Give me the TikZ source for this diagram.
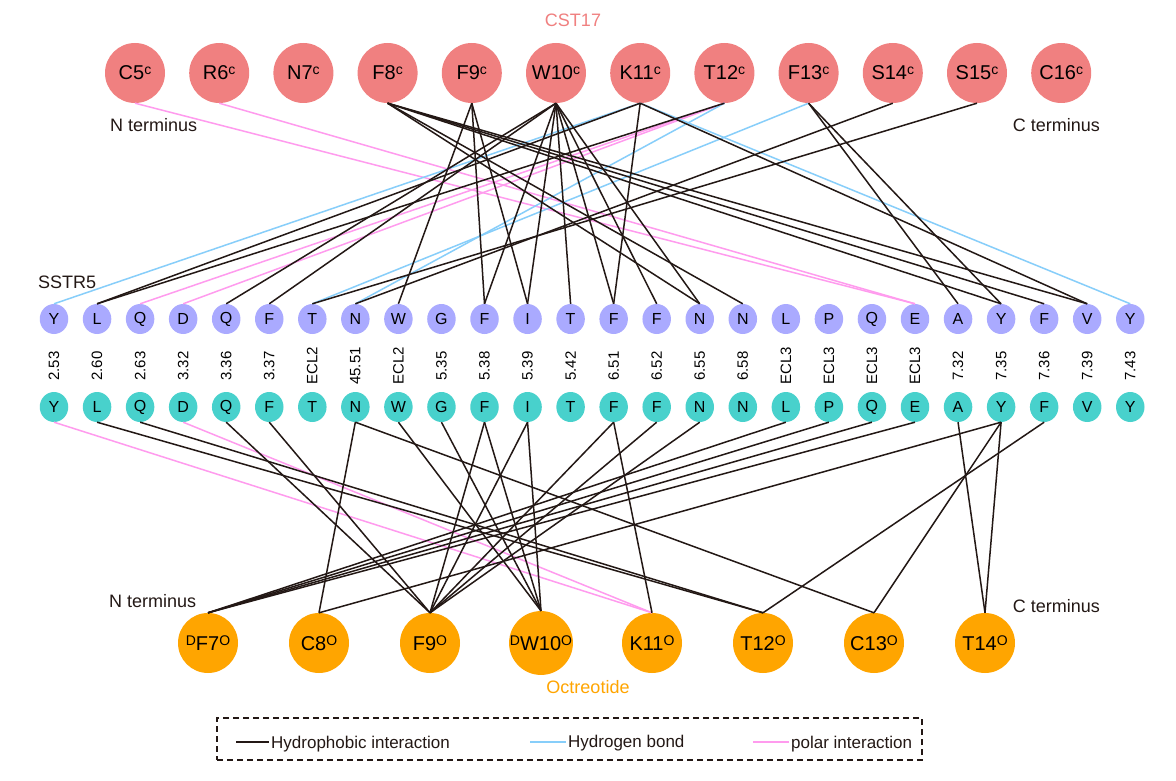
\documentclass[tikz,border=0pt]{standalone}
\usepackage{fontspec}
\setmainfont{Liberation Sans}
\usetikzlibrary{shapes.geometric}
\definecolor{salmon}{HTML}{F08080}
\definecolor{lav}{HTML}{AAAAFF}
\definecolor{tealc}{HTML}{48D1CC}
\definecolor{orng}{HTML}{FFA500}
\definecolor{hblue}{HTML}{87CEFA}
\definecolor{ppink}{HTML}{FF9BEE}
\definecolor{hblack}{HTML}{231815}
\newcommand\mysup[1]{\raisebox{5.5pt}{\fontsize{14}{14}\selectfont #1}}
\begin{document}
\begin{tikzpicture}[x=1pt,y=-1pt,
 topc/.style={circle,fill=salmon,minimum size=60pt,inner sep=0pt,font=\fontsize{20}{20}\selectfont},
 botc/.style={circle,fill=orng,minimum size=60pt,inner sep=0pt,font=\fontsize{20}{20}\selectfont},
 pres/.style={ellipse,fill=lav,minimum width=28.5pt,minimum height=30pt,inner sep=0pt,font=\fontsize{16}{16}\selectfont},
 tres/.style={ellipse,fill=tealc,minimum width=28.5pt,minimum height=30pt,inner sep=0pt,font=\fontsize{16}{16}\selectfont},
 poslbl/.style={rotate=90,inner sep=0pt,font=\fontsize{15}{15}\selectfont},
 hyd/.style={draw=hblack,line width=1.5pt},
 hb/.style={draw=hblue,line width=1.5pt},
 pol/.style={draw=ppink,line width=1.5pt},
 lbl/.style={inner sep=0pt,font=\fontsize{18}{18}\selectfont,text=hblack},
 leg/.style={inner sep=0pt,font=\fontsize{17}{17}\selectfont,text=hblack},
]
\useasboundingbox[fill=white] (0,0) rectangle (1176,781);
% CST17 residues
\foreach \l [count=\i from 5] in {C,R,N,F,F,W,K,T,F,S,S,C}
  \node[topc] (c\i) at ({135+84.2*(\i-5)},73) {\l\i\mysup{c}};
% SSTR5 residues (top copy)
\foreach \l [count=\i from 0] in {Y,L,Q,D,Q,F,T,N,W,G,F,I,T,F,F,N,N,L,P,Q,E,A,Y,F,V,Y}
  \node[pres] (p\i) at ({54+43.05*\i},319) {\l};
\foreach \l [count=\i from 0] in {2.53,2.60,2.63,3.32,3.36,3.37,ECL2,45.51,ECL2,5.35,5.38,5.39,5.42,6.51,6.52,6.55,6.58,ECL3,ECL3,ECL3,ECL3,7.32,7.35,7.36,7.39,7.43}
  \node[poslbl] (n\i) at ({54+43.05*\i},366) {\l};
\foreach \l [count=\i from 0] in {Y,L,Q,D,Q,F,T,N,W,G,F,I,T,F,F,N,N,L,P,Q,E,A,Y,F,V,Y}
  \node[tres] (t\i) at ({54+43.05*\i},407) {\l};
% Octreotide residues
\node[botc] (o7)  at (208,643) {\mysup{D}F7\mysup{O}};
\node[botc] (o8)  at (319,643) {C8\mysup{O}};
\node[botc] (o9)  at (430,643) {F9\mysup{O}};
\node[botc] (o10) at (541,643) {\mysup{D}W10\mysup{O}};
\node[botc] (o11) at (652,643) {K11\mysup{O}};
\node[botc] (o12) at (763,643) {T12\mysup{O}};
\node[botc] (o13) at (874,643) {C13\mysup{O}};
\node[botc] (o14) at (985,643) {T14\mysup{O}};
% labels
\node[lbl,text=salmon,anchor=base] (cst) at (573,27) {CST17};
\node[lbl,text=orng,anchor=base] (oct) at (588,693) {Octreotide};
\node[lbl,anchor=base west] (ssr) at (38,288) {SSTR5};
\node[lbl,anchor=base west] (ntt) at (110,132) {N terminus};
\node[lbl,anchor=base east] (ctt) at (1100,132) {C terminus};
\node[lbl,anchor=base west] (ntb) at (109,607) {N terminus};
\node[lbl,anchor=base east] (ctb) at (1100,612) {C terminus};
% CST17 -> SSTR5
\foreach \a/\b in {5/20,6/20,12/2,12/3}
  \draw[pol] (c\a.south) -- (p\b.north);
\foreach \a/\b in {11/0,12/7,13/6,11/25}
  \draw[hb] (c\a.south) -- (p\b.north);
\foreach \a/\b in {11/1,12/1,10/4,10/5,9/8,9/10,9/11,10/10,10/11,10/12,10/13,10/14,10/15,8/15,8/16,8/22,8/23,8/24,11/13,11/24,13/21,13/22,14/7,15/6}
  \draw[hyd] (c\a.south) -- (p\b.north);
% SSTR5 -> Octreotide
\foreach \a/\b in {0/11,3/11}
  \draw[pol] (t\a.south) -- (o\b.north);
\foreach \a/\b in {1/12,2/12,4/9,5/9,7/8,7/13,8/10,9/10,10/9,10/10,11/9,11/10,13/9,13/11,14/9,15/9,17/7,18/7,19/7,20/7,21/14,22/8,22/13,22/14,23/12}
  \draw[hyd] (t\a.south) -- (o\b.north);
% legend
\node[draw=hblack,line width=1.6pt,dash pattern=on 6pt off 4pt,minimum width=705pt,minimum height=42pt,inner sep=0pt] (legend) at (569.5,739) {};
\coordinate (la1) at (236,742); \coordinate (la2) at (269,742);
\coordinate (lb1) at (530,742); \coordinate (lb2) at (566,742);
\coordinate (lc1) at (753,742); \coordinate (lc2) at (789,742);
\draw[hyd] (la1) -- (la2);
\draw[hb] (lb1) -- (lb2);
\draw[pol] (lc1) -- (lc2);
\node[leg,anchor=base west] (lta) at (271,748) {Hydrophobic interaction};
\node[leg,anchor=base west] (ltb) at (568,747) {Hydrogen bond};
\node[leg,anchor=base west] (ltc) at (791,748) {polar interaction};
\end{tikzpicture}
\end{document}
